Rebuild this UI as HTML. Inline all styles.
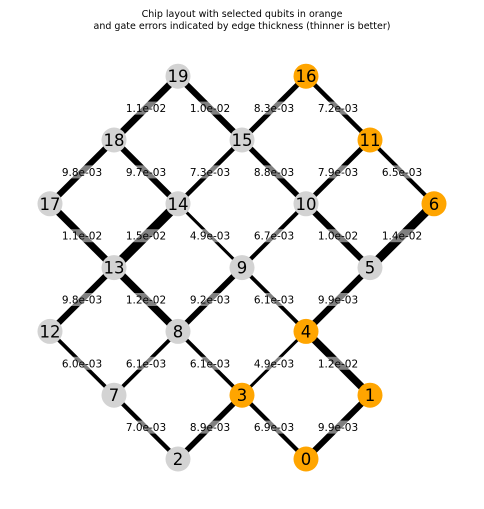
<!DOCTYPE html>
<html><head><meta charset="utf-8"><style>body{margin:0;background:#fff}svg{display:block}text{font-family:"DejaVu Sans","Liberation Sans",sans-serif}</style></head>
<body>
<svg id="c" width="484" height="509" viewBox="0 0 484 509">
<text x="242" y="17" font-size="9.5" text-anchor="middle">Chip layout with selected qubits in orange</text>
<text x="242" y="29" font-size="9.5" text-anchor="middle">and gate errors indicated by edge thickness (thinner is better)</text>
<g id="edges"></g><g id="labels"></g><g id="nodes"></g>
</svg>
<script>
const nodeIds=[0,1,2,3,4,5,6,7,8,9,10,11,12,13,14,15,16,17,18,19];
const nodeCol=[4,5,2,3,4,5,6,1,2,3,4,5,0,1,2,3,4,0,1,2];
const nodeRow=[0,1,0,1,2,3,4,1,2,3,4,5,2,3,4,5,6,4,5,6];
const selected=[0,1,3,4,6,11,16];
const edgeA=[19,19,16,16,18,18,15,15,11,11,17,14,14,10,10,6,13,13,9,9,5,12,8,8,4,4,7,3,3,1];
const edgeB=[18,15,15,11,17,14,14,10,10,6,13,13,9,9,5,5,12,8,8,4,4,7,7,3,3,1,2,2,0,0];
const edgeErr=[1.1e-2,1.0e-2,8.3e-3,7.2e-3,9.8e-3,9.7e-3,7.3e-3,8.8e-3,7.9e-3,6.5e-3,1.1e-2,1.5e-2,4.9e-3,6.7e-3,1.0e-2,1.4e-2,9.8e-3,1.2e-2,9.2e-3,6.1e-3,9.9e-3,6.0e-3,6.1e-3,6.1e-3,4.9e-3,1.2e-2,7.0e-3,8.9e-3,6.9e-3,9.9e-3];
const X=c=>50+c*64, Y=r=>459-r*63.8;
const NS='http://www.w3.org/2000/svg';
const E=document.getElementById('edges'),L=document.getElementById('labels'),N=document.getElementById('nodes');
function mk(t,a){const e=document.createElementNS(NS,t);for(const k in a)e.setAttribute(k,a[k]);return e;}
edgeA.forEach((a,i)=>{const b=edgeB[i];
 const x1=X(nodeCol[a]),y1=Y(nodeRow[a]),x2=X(nodeCol[b]),y2=Y(nodeRow[b]);
 const l=mk('line',{x1,y1,x2,y2,stroke:'#000','stroke-width':edgeErr[i]*620});
 
 
 E.appendChild(l);
 const mx=(x1+x2)/2,my=(y1+y2)/2;
 const r=mk('rect',{x:mx-23,y:my-6.5,width:46,height:13,fill:'#fff','fill-opacity':0.5});
 
 
 L.appendChild(r);
 const t=mk('text',{x:mx,y:my+4,'font-size':10.5,'text-anchor':'middle'});
 t.textContent=edgeErr[i].toExponential(1).replace(/e-(\d)$/,'e-0$1');
 
 
 L.appendChild(t);
});
nodeIds.forEach(n=>{const x=X(nodeCol[n]),y=Y(nodeRow[n]);
 const c=mk('circle',{cx:x,cy:y,r:12.5,fill:selected.includes(n)?'#ffa500':'#d3d3d3'});
 
 
 N.appendChild(c);
 const t=mk('text',{x:x,y:y+6,'font-size':16.5,'text-anchor':'middle'});
 t.textContent=n;
 
 
 N.appendChild(t);
});
</script>
</body></html>
